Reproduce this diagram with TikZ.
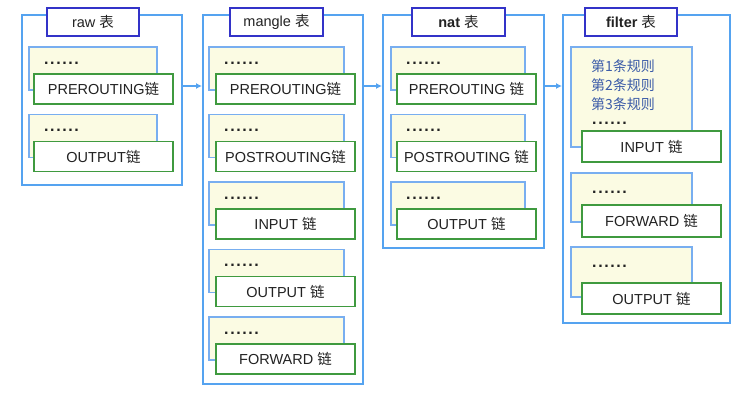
\documentclass[tikz,border=0pt]{standalone}
\usepackage{fontspec}
\setmainfont{Liberation Sans}
\newfontfamily\cjk{Noto Sans CJK SC}
\usetikzlibrary{arrows.meta}
\definecolor{outerblue}{HTML}{55A3F0}
\definecolor{titleblue}{HTML}{3333C8}
\definecolor{ruleblue}{HTML}{78AEF0}
\definecolor{rulefill}{HTML}{FBFBE3}
\definecolor{chaingreen}{HTML}{3F9A3F}
\definecolor{txt}{HTML}{222222}
\definecolor{ruletxt}{HTML}{3B5BA8}
\newcommand\rdots{\textbf{.\kern1.6pt.\kern1.6pt.\kern1.6pt.\kern1.6pt.\kern1.6pt.}}
\newcommand\lian{{\cjk 链}}
\newcommand\biao{{\cjk 表}}
\tikzset{
  outerbox/.style={draw=outerblue, line width=2pt, fill=white, inner sep=0pt},
  titlebox/.style={draw=titleblue, line width=1.5pt, fill=white, inner sep=0pt, minimum height=28pt, text=txt, font=\fontsize{14.5}{17}\selectfont},
  rulebox/.style={draw=ruleblue, line width=1.3pt, fill=rulefill, inner sep=0pt},
  chainbox/.style={draw=chaingreen, line width=1.5pt, fill=white, inner sep=0pt, minimum width=139pt, text=txt, font=\fontsize{14.5}{17}\selectfont},
  dotstxt/.style={anchor=west, inner sep=0pt, text=txt, font=\fontsize{16}{18}\selectfont},
  ruletext/.style={anchor=west, inner sep=0pt, text=ruletxt, font=\fontsize{14}{16}\selectfont\cjk},
  arr/.style={draw=outerblue, line width=1.3pt, -{Latex[length=6pt,width=6pt]}}
}
\begin{document}
\begin{tikzpicture}[x=1pt,y=-1pt]
\useasboundingbox[fill=white] (0,0) rectangle (749,405);
% ---------- raw ----------
\node[outerbox, minimum width=160pt, minimum height=170pt] (raw) at (102,100) {};
\node[titlebox, minimum width=92pt] (rawt) at (93,22) {raw \biao};
\node[rulebox, minimum width=128pt, minimum height=43pt] (rawr1) at (93,68.5) {};
\node[dotstxt] (rawd1) at (44,63) {\rdots};
\node[chainbox, minimum height=30pt] (rawc1) at (103.5,89) {PREROUTING\lian};
\node[rulebox, minimum width=128pt, minimum height=43pt] (rawr2) at (93,136) {};
\node[dotstxt] (rawd2) at (44,130.5) {\rdots};
\node[chainbox, minimum height=30pt] (rawc2) at (103.5,156.5) {OUTPUT\lian};
% ---------- mangle ----------
\node[outerbox, minimum width=160pt, minimum height=369pt] (mangle) at (283,199.5) {};
\node[titlebox, minimum width=93pt] (mant) at (276.5,22) {mangle \biao};
\foreach \k/\lab in {0/PREROUTING\lian, 1/POSTROUTING\lian, 2/INPUT \lian, 3/OUTPUT \lian, 4/FORWARD \lian}{
  \node[rulebox, minimum width=135pt, minimum height=43pt] (manr\k) at (276.5,68.5+67.5*\k) {};
  \node[dotstxt] (mand\k) at (224,63+67.5*\k) {\rdots};
  \node[chainbox, minimum height=30pt] (manc\k) at (285.5,89+67.5*\k) {\lab};
}
% ---------- nat ----------
\node[outerbox, minimum width=161pt, minimum height=233pt] (nat) at (463.5,131.5) {};
\node[titlebox, minimum width=93pt] (natt) at (458.5,22) {\textbf{nat} \biao};
\foreach \k/\lab in {0/PREROUTING \lian, 1/POSTROUTING \lian, 2/OUTPUT \lian}{
  \node[rulebox, minimum width=134pt, minimum height=43pt] (natr\k) at (458,68.5+67.5*\k) {};
  \node[dotstxt] (natd\k) at (406,63+67.5*\k) {\rdots};
  \node[chainbox, minimum height=30pt] (natc\k) at (466.5,89+67.5*\k) {\lab};
}
% ---------- filter ----------
\node[outerbox, minimum width=167pt, minimum height=308pt] (filter) at (646.5,169) {};
\node[titlebox, minimum width=92pt] (filt) at (631,22) {\textbf{filter} \biao};
\node[rulebox, minimum width=121pt, minimum height=100pt] (filr1) at (631.5,97) {};
\node[ruletext] (filx1) at (591,66) {第1条规则};
\node[ruletext] (filx2) at (591,85) {第2条规则};
\node[ruletext] (filx3) at (591,104) {第3条规则};
\node[dotstxt] (fild1) at (592,123) {\rdots};
\node[chainbox, minimum height=31pt] (filc1) at (651.5,146.5) {INPUT \lian};
\node[rulebox, minimum width=121pt, minimum height=49pt] (filr2) at (631.5,197.5) {};
\node[dotstxt] (fild2) at (592,192) {\rdots};
\node[chainbox, minimum height=32pt] (filc2) at (651.5,221) {FORWARD \lian};
\node[rulebox, minimum width=121pt, minimum height=50pt] (filr3) at (631.5,272) {};
\node[dotstxt] (fild3) at (592,266) {\rdots};
\node[chainbox, minimum height=31pt] (filc3) at (651.5,298.5) {OUTPUT \lian};
% ---------- arrows ----------
\coordinate (lev) at (0,86);
\draw[arr] (raw.east |- lev) -- (mangle.west |- lev);
\draw[arr] (mangle.east |- lev) -- (nat.west |- lev);
\draw[arr] (nat.east |- lev) -- (filter.west |- lev);
\end{tikzpicture}
\end{document}
